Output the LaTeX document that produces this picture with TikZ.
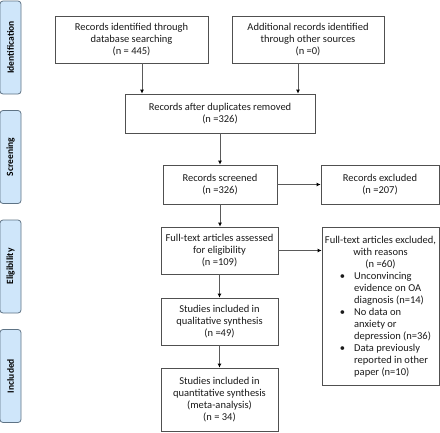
\documentclass[tikz,border=0pt]{standalone}
\usepackage{fontspec}
\setmainfont{Carlito}
\usetikzlibrary{arrows.meta}

\definecolor{edgegray}{HTML}{505050}
\definecolor{linkgray}{HTML}{5A5A5A}
\definecolor{textgray}{HTML}{1A1A1A}
\definecolor{phaseblue}{HTML}{CFE6FA}
\definecolor{phaseedge}{HTML}{5E7385}

\tikzset{
  box/.style={draw=edgegray, line width=0.8pt, align=center, inner sep=2pt,
    text=textgray, font=\fontsize{10.5}{12}\selectfont},
  phase/.style={draw=phaseedge, fill=phaseblue, rounded corners=3pt, line width=0.8pt,
    rotate=90, minimum width=93pt, minimum height=21pt, inner sep=0pt,
    font=\fontsize{9.5}{11}\selectfont\bfseries, text=black},
  link/.style={draw=linkgray, line width=0.9pt, -{Latex[length=4pt,width=4pt,color=black]}}
}

\begin{document}
\begin{tikzpicture}[x=1pt, y=-1pt]
\useasboundingbox (0,0) rectangle (440,432);

% phases
\node[phase] (ident) at (10.5, 47.5) {Identification};
\node[phase] (screen) at (10.5, 157) {Screening};
\node[phase] (elig) at (10.5, 266.5) {Eligibility};
\node[phase] (incl) at (10.5, 376) {Included};

% identification
\node[box, minimum width=153pt, minimum height=47pt] (dbrec) at (131.5, 39.5)
    {Records identified through\\database searching\\(n = 445)};
\node[box, minimum width=152pt, minimum height=47pt] (otherrec) at (308, 39.5)
    {Additional records identified\\through other sources\\(n =0)};

% screening
\node[box, minimum width=190pt, minimum height=39pt] (dedup) at (220, 113.5)
    {Records after duplicates removed\\(n =326)};
\node[box, minimum width=114pt, minimum height=39pt] (screened) at (220, 184.5)
    {Records screened\\(n =326)};
\node[box, minimum width=118pt, minimum height=39pt] (excl) at (380, 184.5)
    {Records excluded\\(n =207)};

% eligibility
\node[box, minimum width=117pt, minimum height=47pt] (fulltext) at (219.5, 250.5)
    {Full-text articles assessed\\for eligibility\\(n =109)};
\def\gap{\hspace{9pt}}
\node[box, minimum width=117pt, minimum height=158pt, anchor=north] (ftexcl) at (380.5, 227)
    {\rule{0pt}{10pt}Full-text articles excluded,\\with reasons\\(n =60)\\
     \hspace*{10pt}\begin{tabular}[t]{@{}c@{\gap}l@{}}
       \textbullet & Unconvincing\\ & evidence on OA\\ & diagnosis (n=14)\\
       \textbullet & No data on\\ & anxiety or\\ & depression (n=36)\\
       \textbullet & Data previously\\ & reported in other\\ & paper (n=10)
     \end{tabular}};

% included
\node[box, minimum width=117pt, minimum height=47pt] (qual) at (219.5, 321.5)
    {Studies included in\\qualitative synthesis\\(n =49)};
\node[box, minimum width=117pt, minimum height=63pt] (quant) at (219.5, 399.5)
    {Studies included in\\quantitative synthesis\\(meta-analysis)\\(n = 34)};

% links
\draw[link] ([xshift=10.5pt]dbrec.south) -- ([xshift=10.5pt]dbrec.south |- dedup.north);
\draw[link] ([xshift=-10pt]otherrec.south) -- ([xshift=-10pt]otherrec.south |- dedup.north);
\draw[link] (dedup) -- (screened);
\draw[link] (screened) -- (excl);
\draw[link] (screened.south) -- (screened.south |- fulltext.north);
\draw[link] (fulltext.east) -- (fulltext.east -| ftexcl.west);
\draw[link] (fulltext) -- (qual);
\draw[link] (qual) -- (quant);

\end{tikzpicture}
\end{document}
